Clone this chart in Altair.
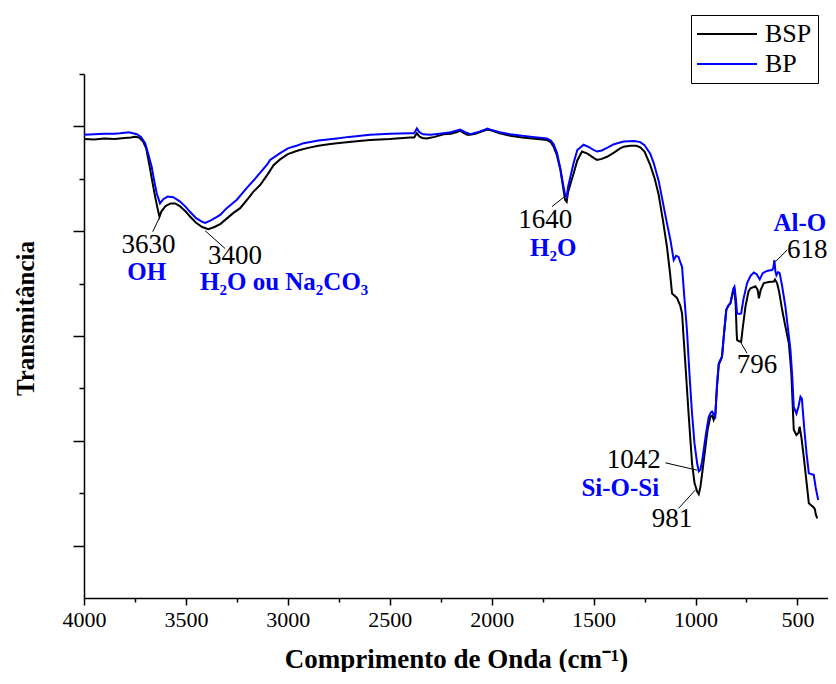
import altair as alt
import pandas as pd

# ---------------- spectra (wavenumber cm-1, transmittance a.u.) ----------------
bsp_wn = [4000, 3950, 3900, 3850, 3800, 3770, 3750, 3730, 3710, 3695, 3680, 3665, 3650, 3640, 3630,
          3620, 3600, 3575, 3553, 3530, 3500, 3480, 3450, 3420, 3390, 3360, 3330, 3300, 3270, 3234,
          3200, 3170, 3136, 3100, 3070, 3038, 3000, 2950, 2900, 2850, 2800, 2760, 2700, 2650, 2596,
          2500, 2400, 2380, 2367, 2355, 2340, 2318, 2280, 2236, 2200, 2170, 2154, 2140, 2120, 2105,
          2080, 2050, 2020, 2000, 1960, 1909, 1850, 1800, 1750, 1729, 1710, 1696, 1680, 1663, 1650,
          1640, 1632, 1625, 1610, 1598, 1580, 1557, 1530, 1500, 1483, 1460, 1434, 1400, 1370, 1353,
          1320, 1290, 1271, 1250, 1222, 1200, 1181, 1160, 1140, 1125, 1115, 1100, 1091, 1075, 1066,
          1058, 1050, 1034, 1017, 1005, 992, 984, 976, 965, 951, 940, 927, 918, 911, 903,
          895, 886, 870, 860, 849, 835, 829, 815, 809, 803, 798, 796, 785, 776, 770,
          755, 740, 730, 706, 695, 689, 680, 665, 640, 616, 610, 600, 590, 575, 560,
          542, 530, 518, 505, 495, 489, 480, 469, 455, 444, 430, 423, 415, 410, 403]
bsp_t = [87.6, 87.5, 87.7, 87.6, 87.8, 87.9, 88.0, 87.9, 87.1, 85.8, 82.8, 79.5, 76.4, 74.5, 72.8,
         73.8, 74.8, 75.3, 75.3, 74.8, 73.7, 72.8, 71.6, 70.8, 70.4, 70.8, 71.4, 72.4, 73.4, 74.4,
         76.0, 77.5, 78.8, 80.8, 82.6, 83.7, 84.7, 85.4, 85.9, 86.3, 86.6, 86.8, 87.0, 87.2, 87.4,
         87.6, 87.9, 87.9, 88.7, 88.1, 87.8, 87.7, 88.0, 88.5, 88.6, 88.9, 89.2, 88.8, 88.4, 88.4,
         88.6, 89.0, 89.4, 89.2, 88.7, 88.2, 87.9, 87.7, 87.5, 87.4, 87.0, 86.1, 84.5, 81.7, 78.5,
         76.0, 75.6, 77.5, 79.5, 81.0, 83.5, 85.2, 84.8, 84.0, 83.6, 83.8, 84.2, 85.0, 85.8, 86.1,
         86.3, 86.3, 86.0, 85.2, 82.6, 80.0, 77.0, 72.1, 67.0, 62.0, 58.1, 57.6, 57.3, 55.8, 54.3,
         49.5, 44.8, 35.2, 25.7, 22.0, 20.3, 19.8, 21.2, 24.5, 28.9, 32.3, 34.6, 34.8, 34.0, 35.0,
         40.0, 44.5, 46.0, 50.5, 55.0, 56.0, 56.2, 58.5, 58.8, 56.0, 50.5, 49.2, 49.0, 48.9, 51.0,
         55.6, 58.5, 59.1, 59.5, 58.8, 57.2, 58.8, 60.1, 60.3, 60.4, 60.8, 60.1, 58.5, 55.0, 52.0,
         48.6, 43.0, 32.1, 31.1, 31.5, 32.7, 30.5, 27.0, 22.0, 18.1, 17.6, 17.4, 17.0, 16.0, 15.2]

bp_wn = [4000, 3950, 3900, 3850, 3823, 3780, 3741, 3720, 3700, 3685, 3668, 3655, 3643, 3627, 3611,
         3590, 3562, 3530, 3500, 3480, 3450, 3420, 3406, 3380, 3350, 3332, 3300, 3250, 3200, 3152,
         3100, 3087, 3038, 3000, 2950, 2923, 2850, 2760, 2700, 2596, 2500, 2400, 2380, 2367, 2355,
         2336, 2300, 2236, 2200, 2154, 2130, 2105, 2060, 2020, 2000, 1960, 1909, 1850, 1800, 1729,
         1710, 1696, 1680, 1663, 1650, 1640, 1632, 1625, 1610, 1598, 1580, 1549, 1520, 1500, 1483,
         1460, 1434, 1400, 1353, 1300, 1271, 1250, 1222, 1205, 1180, 1156, 1140, 1123, 1107, 1095,
         1083, 1072, 1066, 1055, 1042, 1030, 1017, 1005, 992, 984, 976, 968, 960, 948, 935,
         925, 919, 910, 903, 895, 886, 870, 860, 849, 840, 829, 815, 809, 803, 796,
         786, 776, 765, 747, 730, 714, 700, 685, 670, 657, 640, 624, 618, 613, 608,
         603, 595, 587, 575, 559, 545, 534, 525, 518, 505, 495, 485, 478, 466, 455,
         444, 430, 420, 410, 398]
bp_t = [88.4, 88.5, 88.6, 88.6, 88.7, 88.9, 88.5, 88.0, 86.8, 84.8, 82.3, 79.5, 77.2, 75.3, 76.1,
        76.6, 76.5, 75.7, 74.6, 73.7, 72.5, 71.8, 71.6, 72.0, 72.7, 73.1, 74.4, 76.0, 78.3, 80.4,
        82.8, 83.6, 84.9, 85.8, 86.4, 86.8, 87.3, 87.7, 88.0, 88.4, 88.6, 88.7, 88.7, 89.6, 88.9,
        88.5, 88.4, 88.7, 88.9, 89.4, 88.9, 88.5, 89.0, 89.6, 89.3, 88.9, 88.5, 88.2, 88.0, 87.7,
        87.3, 86.6, 85.0, 82.0, 79.0, 77.0, 76.5, 78.5, 81.0, 83.0, 85.5, 86.5, 86.0, 85.5, 85.2,
        85.4, 85.9, 86.6, 87.1, 87.2, 87.0, 86.4, 84.8, 83.0, 79.5, 74.7, 71.5, 68.3, 64.5, 65.3,
        65.1, 63.8, 63.2, 57.5, 51.1, 43.0, 35.2, 29.5, 25.7, 24.2, 24.5, 26.0, 28.2, 31.5, 34.6,
        35.4, 35.6, 35.0, 34.6, 40.5, 44.8, 46.1, 50.5, 55.0, 55.8, 56.2, 59.0, 59.4, 57.5, 54.3,
        54.2, 54.3, 57.0, 60.1, 61.5, 62.1, 61.8, 60.8, 62.0, 62.3, 62.5, 62.6, 63.0, 64.5, 62.3,
        61.6, 62.2, 62.0, 59.5, 55.6, 51.0, 47.3, 42.0, 36.5, 35.2, 36.5, 38.4, 38.0, 32.1, 27.5,
        23.8, 23.6, 23.5, 21.0, 18.7]

# ---------------- annotations ----------------
num_labels = ["3630", "3400", "1640", "1042", "981", "796", "618"]
num_x = [3683, 3259, 1737, 1303, 1115, 698, 452]
num_y = [67.4, 65.3, 72.2, 26.3, 15.1, 44.5, 66.4]

grp_labels = ["OH", "H₂O ou Na₂CO₃", "H₂O", "Si-O-Si", "Al-O"]
grp_x = [3692, 3018, 1698, 1369, 488]
grp_y = [62.2, 60.3, 66.7, 21.0, 71.6]

lead_x1 = [3663, 3406, 1704, 1148, 1083, 747, 550]
lead_y1 = [69.9, 70.1, 74.7, 25.8, 17.1, 46.7, 66.4]
lead_x2 = [3627, 3308, 1639, 992, 1001, 780, 608]
lead_y2 = [72.8, 66.7, 76.7, 24.4, 20.6, 48.9, 64.2]

x_major = [4000, 3500, 3000, 2500, 2000, 1500, 1000, 500]
x_minor = [3750, 3250, 2750, 2250, 1750, 1250, 750]
y_major = [10, 30, 50, 70, 90]
y_minor = [20, 40, 60, 80, 100]

series = ["BSP", "BP"]
colors = ["#000000", "#0000FF"]

# ---------------- tables ----------------
spec = pd.concat([
    pd.DataFrame({"wn": bsp_wn, "t": bsp_t, "series": "BSP"}),
    pd.DataFrame({"wn": bp_wn, "t": bp_t, "series": "BP"}),
], ignore_index=True)
nums = pd.DataFrame({"label": num_labels, "wn": num_x, "t": num_y})
grps = pd.DataFrame({"label": grp_labels, "wn": grp_x, "t": grp_y})
leads = pd.DataFrame({"x1": lead_x1, "y1": lead_y1, "x2": lead_x2, "y2": lead_y2})

FONT = "Liberation Serif"
xs = alt.Scale(domain=[4000, 350], nice=False, zero=False)
ys = alt.Scale(domain=[0, 100], nice=False, zero=False)
cs = alt.Scale(domain=series, range=colors)

common_axis = dict(domainColor="black", tickColor="black", labelColor="black",
                   titleColor="black", domainWidth=1.5, tickWidth=1.5,
                   labelFont=FONT, titleFont=FONT, grid=False)

minor = alt.Chart(spec).mark_line(opacity=0).encode(
    x=alt.X("wn:Q", scale=xs, axis=alt.Axis(values=x_minor, orient="bottom", labels=False,
                                               tickSize=4, domain=False, title=None, **common_axis)),
    y=alt.Y("t:Q", scale=ys, axis=alt.Axis(values=y_minor, orient="left", labels=False,
                                              tickSize=5, domain=False, title=None, **common_axis)),
)

black = alt.Chart(spec).transform_filter(alt.datum.series == "BSP").mark_line(strokeWidth=2).encode(
    x=alt.X("wn:Q", scale=xs, axis=alt.Axis(values=x_major, orient="bottom", format="d",
                                               tickSize=7, labelPadding=4, labelFontSize=22,
                                               labelFlush=False, labelOverlap=False,
                                               title="Comprimento de Onda (cm⁻¹)",
                                               titleFontSize=27, titleFontWeight="bold",
                                               titlePadding=16, **common_axis)),
    y=alt.Y("t:Q", scale=ys, axis=alt.Axis(values=y_major, orient="left", labels=False,
                                              tickSize=11, title="Transmitância",
                                              titleFontSize=25, titleFontWeight="bold",
                                              titleX=-59, titleY=244, titleAngle=270,
                                              titleAlign="center", titleBaseline="middle",
                                              **common_axis)),
    color=alt.Color("series:N", scale=cs, legend=alt.Legend(
        title=None, orient="none", legendX=607, legendY=-59,
        symbolType="M-2.5,0H2.5", symbolSize=576, symbolStrokeWidth=2, symbolOffset=17,
        labelFont=FONT, labelFontSize=26, labelColor="black", labelOffset=25,
        strokeColor="black", fillColor="white", padding=6, rowPadding=4, cornerRadius=0)),
)

blue = alt.Chart(spec).transform_filter(alt.datum.series == "BP").mark_line(strokeWidth=2).encode(
    x=alt.X("wn:Q", scale=xs, axis=None),
    y=alt.Y("t:Q", scale=ys, axis=None),
    color=alt.Color("series:N", scale=cs, legend=None),
)

rules = alt.Chart(leads).mark_rule(color="black", strokeWidth=1).encode(
    x=alt.X("x1:Q", scale=xs, axis=None),
    y=alt.Y("y1:Q", scale=ys, axis=None),
    x2="x2:Q",
    y2="y2:Q",
)

num_text = alt.Chart(nums).mark_text(font=FONT, fontSize=27, color="black",
                                     align="center", baseline="middle").encode(
    x=alt.X("wn:Q", scale=xs, axis=None),
    y=alt.Y("t:Q", scale=ys, axis=None),
    text="label:N",
)

grp_text = alt.Chart(grps).mark_text(font=FONT, fontSize=25, fontWeight="bold", color="#0000FF",
                                     align="center", baseline="middle").encode(
    x=alt.X("wn:Q", scale=xs, axis=None),
    y=alt.Y("t:Q", scale=ys, axis=None),
    text="label:N",
)

chart = alt.layer(minor, black, blue, rules, num_text, grp_text).resolve_axis(
    x="independent", y="independent"
).properties(
    width=744, height=524,
    autosize=alt.AutoSizeParams(type="none"),
    padding={"left": 76, "top": 66, "right": 0, "bottom": 74},
).configure_view(stroke=None)

chart.save("out.html", embed_options={"renderer": "svg", "actions": False})
